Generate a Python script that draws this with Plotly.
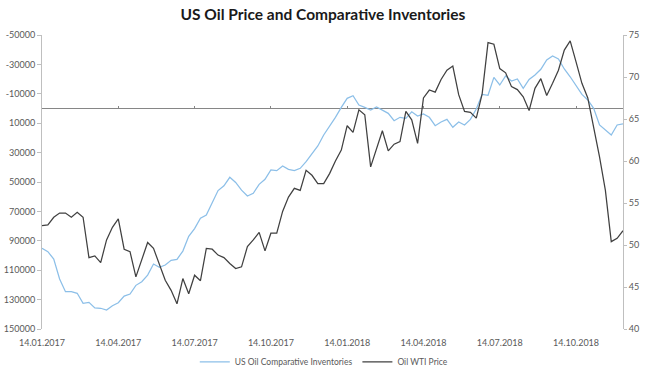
import plotly.graph_objects as go

# Weekly observations starting 14.01.2017 (week index 0..99)
weeks = list(range(100))

inventories = [
    95100, 97400, 102400, 116000, 124600, 124600, 125700, 132500, 131900, 135700,
    135900, 137100, 134200, 132100, 127600, 126200, 120300, 117800, 113300, 105800,
    108000, 106500, 103300, 102600, 97000, 87000, 81700, 74700, 72500, 64500,
    55800, 52600, 46800, 50300, 55500, 59500, 57700, 51600, 48200, 41800,
    42300, 39100, 41400, 42300, 40700, 36200, 30500, 25500, 18000, 12400,
    6000, -800, -6900, -8700, -2400, -800, 1000, -1000, 1000, 3300,
    8300, 6000, 6700, 2200, 5100, 3700, 6000, 11700, 9200, 7400,
    12800, 9200, 11200, 7400, 300, -9600, -9000, -21200, -16000, -22100,
    -18700, -20100, -13700, -19800, -22800, -26700, -33000, -35700, -33700, -26900,
    -21600, -16000, -9600, -5800, -100, 11200, 14600, 18000, 11200, 10500,
]

wti_price = [
    52.3, 52.4, 53.3, 53.8, 53.8, 53.3, 53.9, 53.3, 48.5, 48.7,
    47.9, 50.6, 52.1, 53.1, 49.5, 49.2, 46.2, 48.2, 50.3, 49.6,
    47.6, 45.8, 44.6, 43.0, 46.0, 44.2, 46.4, 45.75, 49.6, 49.5,
    48.8, 48.5, 47.8, 47.2, 47.4, 49.8, 50.6, 51.5, 49.3, 51.4,
    51.4, 54.0, 55.7, 56.75, 56.5, 58.9, 58.3, 57.3, 57.3, 58.5,
    60.0, 61.3, 64.2, 63.4, 66.1, 65.5, 59.3, 61.5, 63.6, 61.2,
    62.0, 62.3, 65.9, 64.9, 62.1, 67.5, 68.45, 68.2, 69.7, 70.8,
    71.3, 67.9, 65.9, 65.8, 65.1, 68.0, 74.1, 73.9, 71.0, 70.5,
    68.85, 68.5, 67.65, 66.0, 68.65, 69.8, 67.8, 69.25, 70.8, 73.2,
    74.3, 71.8, 69.25, 67.5, 64.1, 60.5, 56.5, 50.4, 50.8, 51.7,
]

date_tick_weeks = [0, 13, 26, 39, 52, 65, 78, 91]
date_tick_labels = ["14.01.2017", "14.04.2017", "14.07.2017", "14.10.2017",
                    "14.01.2018", "14.04.2018", "14.07.2018", "14.10.2018"]

inv_ticks = [-50000, -30000, -10000, 10000, 30000, 50000, 70000, 90000, 110000, 130000, 150000]
inv_tick_labels = [str(v) for v in inv_ticks]
price_ticks = [40, 45, 50, 55, 60, 65, 70, 75]

FONT = "Lato, Liberation Sans, Arial, sans-serif"
AXIS_GREY = "#bfbfbf"
TEXT_GREY = "#595959"
FS = 9

fig = go.Figure()
fig.add_trace(go.Scatter(
    x=weeks, y=inventories, name="US Oil Comparative Inventories",
    mode="lines", line=dict(color="#8cbfe8", width=1.25), yaxis="y",
))
fig.add_trace(go.Scatter(
    x=weeks, y=wti_price, name="Oil WTI Price",
    mode="lines", line=dict(color="#404040", width=1.25), yaxis="y2",
))
# helper trace for the tick marks on the zero line
fig.add_trace(go.Scatter(x=[None], y=[None], xaxis="x2", yaxis="y",
                         showlegend=False, hoverinfo="skip"))

inv_min, inv_max = -50000, 150000
zero_pos = 1 - (0 - inv_min) / (inv_max - inv_min)

fig.update_layout(
    width=646, height=375, autosize=False,
    margin=dict(l=42, r=23, t=35, b=46, autoexpand=False),
    paper_bgcolor="white", plot_bgcolor="white",
    title=dict(text="<b>US Oil Price and Comparative Inventories</b>",
               x=0.5, xanchor="center", y=0.96, yanchor="middle",
               font=dict(family=FONT, size=15.5, color="#1a1a1a")),
    font=dict(family=FONT, size=FS, color=TEXT_GREY),
    showlegend=True,
    legend=dict(orientation="h", x=0.485, xanchor="center",
                yref="container", y=0.035, yanchor="middle",
                font=dict(family=FONT, size=8.5, color=TEXT_GREY),
                bgcolor="rgba(0,0,0,0)", itemwidth=30),
    xaxis=dict(range=[0, 99], showgrid=False, zeroline=False, showline=False,
               tickmode="array", tickvals=date_tick_weeks, ticktext=date_tick_labels,
               ticks="outside", ticklen=5, tickcolor="rgba(0,0,0,0)",
               tickfont=dict(size=FS, color=TEXT_GREY)),
    xaxis2=dict(range=[0, 99], overlaying="x", anchor="free", position=zero_pos,
                side="bottom", showgrid=False, zeroline=False, showline=False,
                tickmode="array", tickvals=date_tick_weeks, showticklabels=False,
                ticks="inside", ticklen=3, tickcolor="#868686", tickwidth=1),
    yaxis=dict(range=[inv_max, inv_min], showgrid=False,
               zeroline=True, zerolinecolor="#868686", zerolinewidth=1,
               showline=True, linecolor=AXIS_GREY, linewidth=1,
               ticks="outside", ticklen=4, tickcolor=AXIS_GREY,
               tickmode="array", tickvals=inv_ticks, ticktext=inv_tick_labels,
               tickfont=dict(size=FS, color=TEXT_GREY)),
    yaxis2=dict(range=[40, 75], overlaying="y", side="right", showgrid=False,
                zeroline=False, showline=True, linecolor=AXIS_GREY, linewidth=1,
                ticks="outside", ticklen=3, tickcolor=AXIS_GREY,
                tickmode="array", tickvals=price_ticks,
                tickfont=dict(size=FS, color=TEXT_GREY)),
)

fig.write_html("out.html", config={"displayModeBar": False},
               post_script="document.body.style.margin='0';document.body.style.overflow='hidden';")
